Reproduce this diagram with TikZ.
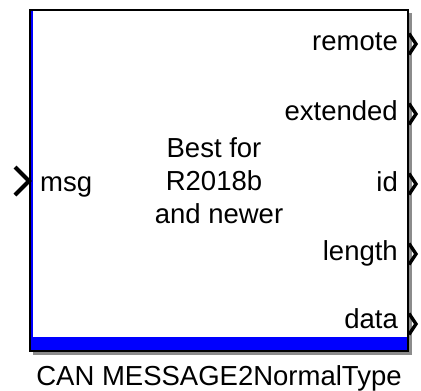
\documentclass[tikz,border=0pt]{standalone}
\usepackage{fontspec}
\setmainfont{Liberation Sans}
\begin{document}
\begin{tikzpicture}[x=1pt,y=-1pt,
  lbl/.style={inner sep=0pt,font=\fontsize{27.5}{33}\selectfont},
  rport/.style={draw=black,line width=3.4pt,line join=miter},
  lport/.style={draw=black,line width=4pt,line join=miter},
  shadowbox/.style={fill=black!45,draw=none},
  blkbox/.style={draw=black,line width=2pt,fill=white}]
\useasboundingbox (0,0) rectangle (421,391);
% shadow
\fill[shadowbox] (33,13) rectangle (412,354.5);
% block
\draw[blkbox] (30,10) rectangle (408,351);
\coordinate (blkNW) at (30,10);
\coordinate (blkSE) at (408,351);
% blue accents
\fill[blue] (31,337) rectangle (407,350);
\draw[blue,line width=2.6pt] (32,11) -- (32,337);
% centre text
\node[lbl,anchor=base] (c1) at (214,157) {Best for};
\node[lbl,anchor=base] (c2) at (214,190) {R2018b};
\node[lbl,anchor=base] (c3) at (219,223) {and newer};
% input label and port
\node[lbl,anchor=base west] (msg) at (40,191) {msg};
\coordinate (in) at (29,181);
\draw[lport] ([xshift=-14pt,yshift=-14pt]in) -- (in) -- ([xshift=-14pt,yshift=14pt]in);
% output labels
\node[lbl,anchor=base east] (remote) at (398,50) {remote};
\node[lbl,anchor=base east] (extended) at (398,120) {extended};
\node[lbl,anchor=base east] (id) at (398,191) {id};
\node[lbl,anchor=base east] (length) at (398,260) {length};
\node[lbl,anchor=base east] (data) at (398,328) {data};
% output ports
\foreach \n/\yy in {o1/44,o2/114,o3/184,o4/254,o5/324}{
  \coordinate (\n) at (416,\yy);
  \draw[rport] ([xshift=-7pt,yshift=-10.5pt]\n) -- (\n) -- ([xshift=-7pt,yshift=10.5pt]\n);
}
% caption
\node[lbl,anchor=base] (cap) at (219,385) {CAN MESSAGE2NormalType};
\end{tikzpicture}
\end{document}
